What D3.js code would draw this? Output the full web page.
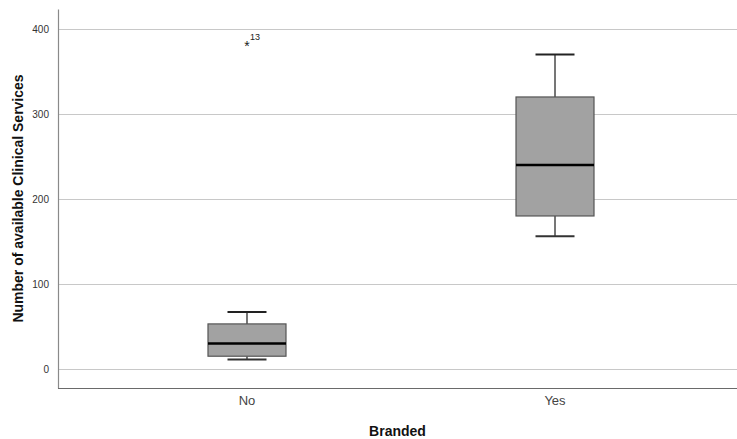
<!DOCTYPE html>
<html>
<head>
<meta charset="utf-8">
<script src="https://cdn.jsdelivr.net/npm/d3@7"></script>
<style>
  html, body { margin: 0; padding: 0; background: #fff; }
  svg { display: block; font-family: Arial, "Liberation Sans", sans-serif; }
</style>
</head>
<body>
<svg id="chart" width="737" height="439"></svg>
<script>
// Box plot summary per group
const categories = ["No", "Yes"];
const whiskerLow  = [11, 156];
const q1          = [15, 180];
const medians     = [30, 240];
const q3          = [53, 320];
const whiskerHigh = [67, 370];
// Extreme values (starred) with case labels
const outlierGroup = ["No"];
const outlierValue = [381];
const outlierCase  = ["13"];
const yTicks = [0, 100, 200, 300, 400];

const svg = d3.select("#chart");
const plotLeft = 58, plotRight = 737, plotTop = 9, plotBottom = 388;

const y = d3.scaleLinear().domain([-22.4, 423.5]).range([plotBottom, plotTop]);
const x = d3.scaleBand().domain(categories).range([plotLeft, 744])
  .paddingInner(0).paddingOuter(0.1136);
const cx = c => x(c) + x.bandwidth() / 2;
const boxW = 78, capW = 39;

// Horizontal gridlines
svg.append("g").selectAll("line").data(yTicks).join("line")
  .attr("x1", plotLeft).attr("x2", plotRight)
  .attr("y1", d => Math.round(y(d)) + 0.5).attr("y2", d => Math.round(y(d)) + 0.5)
  .attr("stroke", "#c8c8c8").attr("stroke-width", 1);

// Y axis
const yAxis = svg.append("g").attr("transform", `translate(${plotLeft},0)`)
  .call(d3.axisLeft(y).tickValues(yTicks).tickSize(0).tickPadding(9));
yAxis.select(".domain").attr("stroke", "#8a8a8a").attr("stroke-width", 1.2);
yAxis.selectAll("text").attr("font-size", 10).attr("fill", "#333")
  .attr("font-family", "Arial, 'Liberation Sans', sans-serif");

// X axis
const xAxis = svg.append("g").attr("transform", `translate(0,${plotBottom})`)
  .call(d3.axisBottom(x).tickSize(0).tickPadding(8));
xAxis.select(".domain").attr("stroke", "#6a6a6a").attr("stroke-width", 1.2)
  .attr("d", `M${plotLeft},0.5H${plotRight}`);
xAxis.selectAll("text").attr("font-size", 13).attr("fill", "#444")
  .attr("font-family", "Arial, 'Liberation Sans', sans-serif");

// Boxes
const groups = svg.append("g").selectAll("g").data(categories).join("g");
groups.append("line")
  .attr("x1", cx).attr("x2", cx)
  .attr("y1", (d, i) => y(whiskerHigh[i])).attr("y2", (d, i) => y(q3[i]))
  .attr("stroke", "#555").attr("stroke-width", 1.6);
groups.append("line")
  .attr("x1", cx).attr("x2", cx)
  .attr("y1", (d, i) => y(q1[i])).attr("y2", (d, i) => y(whiskerLow[i]))
  .attr("stroke", "#555").attr("stroke-width", 1.6);
groups.append("line")
  .attr("x1", d => cx(d) - capW / 2).attr("x2", d => cx(d) + capW / 2)
  .attr("y1", (d, i) => y(whiskerHigh[i])).attr("y2", (d, i) => y(whiskerHigh[i]))
  .attr("stroke", "#222").attr("stroke-width", 2);
groups.append("line")
  .attr("x1", d => cx(d) - capW / 2).attr("x2", d => cx(d) + capW / 2)
  .attr("y1", (d, i) => y(whiskerLow[i])).attr("y2", (d, i) => y(whiskerLow[i]))
  .attr("stroke", "#333").attr("stroke-width", 2);
groups.append("rect")
  .attr("x", d => cx(d) - boxW / 2).attr("width", boxW)
  .attr("y", (d, i) => y(q3[i])).attr("height", (d, i) => y(q1[i]) - y(q3[i]))
  .attr("fill", "#a2a2a2").attr("stroke", "#555").attr("stroke-width", 1.2);
groups.append("line")
  .attr("x1", d => cx(d) - boxW / 2).attr("x2", d => cx(d) + boxW / 2)
  .attr("y1", (d, i) => y(medians[i])).attr("y2", (d, i) => y(medians[i]))
  .attr("stroke", "#000").attr("stroke-width", 2.5);

// Extreme values
const out = svg.append("g").selectAll("g").data(outlierValue).join("g")
  .attr("transform", (d, i) => `translate(${cx(outlierGroup[i])},${y(d)})`);
out.append("text").text("*").attr("text-anchor", "middle").attr("y", 6)
  .attr("font-size", 14).attr("fill", "#222");
out.append("text").text((d, i) => outlierCase[i]).attr("x", 3).attr("y", -5)
  .attr("font-size", 9).attr("fill", "#222");

// Axis titles
svg.append("text").text("Branded")
  .attr("x", (plotLeft + plotRight) / 2).attr("y", 436).attr("text-anchor", "middle")
  .attr("font-size", 14).attr("font-weight", "bold").attr("fill", "#111");
svg.append("text").text("Number of available Clinical Services")
  .attr("transform", `translate(23,${(plotTop + plotBottom) / 2}) rotate(-90)`)
  .attr("text-anchor", "middle")
  .attr("font-size", 14).attr("font-weight", "bold").attr("fill", "#111");
</script>
</body>
</html>
